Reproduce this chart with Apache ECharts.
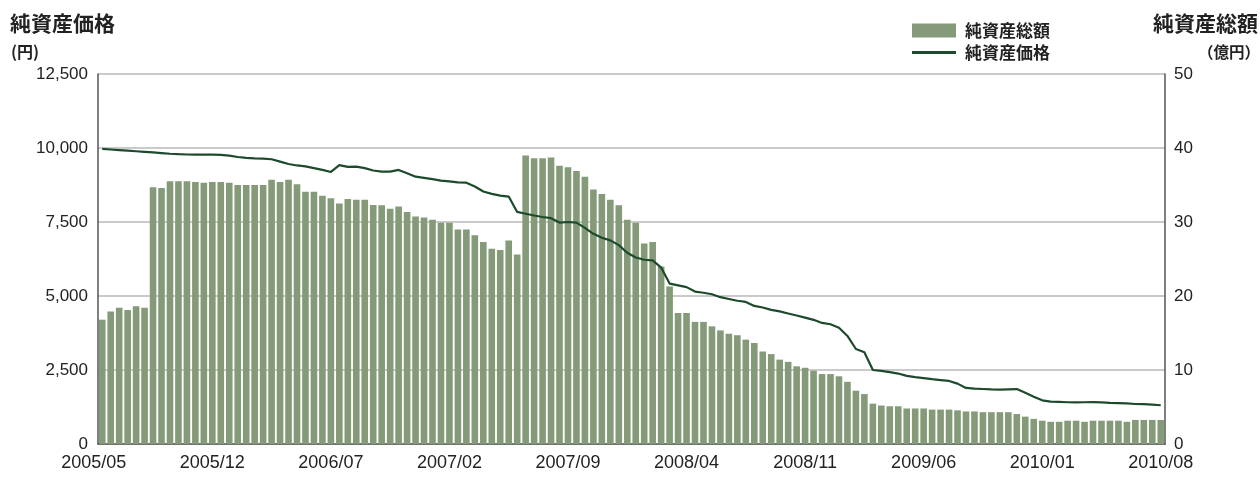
<!DOCTYPE html>
<html>
<head>
<meta charset="utf-8">
<script src="https://cdn.jsdelivr.net/npm/echarts@6/dist/echarts.min.js"></script>
<style>
  html, body { margin: 0; padding: 0; background: #fff; }
  #main { width: 1260px; height: 479px; }
</style>
</head>
<body>
<div id="main"></div>
<script>
const tickLabels = ['2005/05', '2005/12', '2006/07', '2007/02', '2007/09', '2008/04', '2008/11', '2009/06', '2010/01', '2010/08'];

// half-month points, 2005/05 (2nd half) .. 2010/08
const categories = [];
for (let i = 0; i < 126; i++) {
  const m = 4 + Math.floor((i + 1) / 2);
  const y = 2005 + Math.floor(m / 12);
  const mm = String((m % 12) + 1).padStart(2, '0');
  categories.push((i + 1) % 2 === 0 ? `${y}/${mm}` : `${y}/${mm}/15`);
}

// 純資産総額 (億円)
const totalAssets = [
  16.8, 17.9, 18.4, 18.1, 18.6, 18.4, 34.7, 34.6, 35.5, 35.5, 35.5, 35.4, 35.3,
  35.4, 35.4, 35.3, 35.0, 35.0, 35.0, 35.0, 35.7, 35.4, 35.7, 35.1, 34.1, 34.1,
  33.55, 33.2, 32.5, 33.1, 33.0, 33.0, 32.3, 32.25, 31.8, 32.1, 31.35, 30.75,
  30.6, 30.3, 29.9, 29.9, 29.0, 29.0, 28.2, 27.3, 26.4, 26.2, 27.5, 25.6,
  39.0, 38.6, 38.6, 38.7, 37.6, 37.4, 36.9, 36.1, 34.4, 33.8, 33.0, 32.25, 30.3,
  29.9, 27.1, 27.3, 24.0, 21.3, 17.7, 17.7, 16.5, 16.5, 15.9, 15.35, 14.9, 14.7,
  14.1, 13.65, 12.5, 12.15, 11.4, 11.1, 10.5, 10.3, 9.9, 9.45, 9.45, 9.15, 8.4,
  7.2, 6.75, 5.45, 5.2, 5.1, 5.1, 4.8, 4.8, 4.8, 4.65, 4.65, 4.65, 4.55,
  4.4, 4.4, 4.3, 4.3, 4.3, 4.3, 4.05, 3.7, 3.4, 3.15, 3.0, 3.0,
  3.15, 3.15, 3.0, 3.15, 3.15, 3.15, 3.15, 3.0, 3.25, 3.25, 3.25, 3.25
];

// 純資産価格 (円)
const navPrice = [
  9970, 9950, 9930, 9910, 9890, 9870, 9850, 9830, 9805, 9790, 9780, 9775, 9775,
  9775, 9770, 9740, 9695, 9665, 9650, 9640, 9620, 9540, 9460, 9410, 9380, 9320,
  9260, 9190, 9420, 9360, 9370, 9320, 9240, 9200, 9200, 9260, 9150, 9030,
  8990, 8950, 8900, 8870, 8837, 8830, 8700, 8530, 8450, 8390, 8360, 7840,
  7780, 7720, 7670, 7630, 7480, 7500, 7480, 7300, 7100, 6970, 6880, 6720, 6460,
  6300, 6225, 6205, 5960, 5420, 5360, 5300, 5150, 5110, 5060, 4960, 4900, 4840,
  4800, 4665, 4610, 4530, 4480, 4410, 4340, 4270, 4195, 4090, 4045, 3930, 3650,
  3210, 3100, 2500, 2470, 2430, 2380, 2300, 2260, 2225, 2190, 2160, 2130, 2040,
  1895, 1870, 1858, 1845, 1834, 1845, 1855, 1730, 1600, 1475, 1430, 1420,
  1410, 1405, 1410, 1418, 1405, 1390, 1383, 1370, 1352, 1345, 1330, 1310
];

const numFont = 'Liberation Sans, Arial, sans-serif';
const jpFont = 'Noto Sans CJK JP, sans-serif';
const ink = '#222';
const lineColor = '#1d4a2c';

const chart = echarts.init(document.getElementById('main'));

chart.setOption({
  animation: false,
  backgroundColor: '#fff',
  title: [
    { text: '純資産価格', left: 10, top: 13, padding: 0, textStyle: { fontFamily: jpFont, fontSize: 21, fontWeight: 'bold', color: ink } },
    { text: '(円)', left: 11, top: 44, padding: 0, textStyle: { fontFamily: jpFont, fontSize: 16, fontWeight: 'bold', color: ink } },
    { text: '純資産総額', right: 2, top: 13, padding: 0, textStyle: { fontFamily: jpFont, fontSize: 21, fontWeight: 'bold', color: ink } },
    { text: '（億円）', right: 0, top: 44, padding: 0, textStyle: { fontFamily: jpFont, fontSize: 15.5, fontWeight: 'bold', color: ink } }
  ],
  legend: {
    left: 912,
    top: 22,
    padding: 0,
    orient: 'vertical',
    itemWidth: 44,
    itemHeight: 14,
    itemGap: 5,
    textStyle: { fontFamily: jpFont, fontSize: 17, fontWeight: 'bold', color: ink, padding: [0, 0, 0, 4] },
    data: [
      { name: '純資産総額', icon: 'rect' },
      { name: '純資産価格', icon: 'path://M0,0 L44,0 L44,3 L0,3 Z' }
    ]
  },
  grid: { left: 98, right: 95, top: 74, bottom: 35 },
  xAxis: {
    type: 'category',
    data: categories,
    boundaryGap: true,
    axisLine: { lineStyle: { color: '#555', width: 1.5 } },
    axisTick: { alignWithLabel: true, length: 6, lineStyle: { color: '#888' } },
    axisLabel: {
      interval: (idx) => tickLabels.includes(categories[idx]),
      margin: 10,
      fontFamily: numFont,
      fontSize: 18,
      color: ink
    },
    splitLine: { show: false }
  },
  yAxis: [
    {
      type: 'value',
      min: 0,
      max: 12500,
      interval: 2500,
      axisLine: { show: true, lineStyle: { color: '#555', width: 1.5 } },
      axisTick: { show: false },
      axisLabel: {
        margin: 10,
        fontFamily: numFont,
        fontSize: 17,
        color: ink,
        formatter: (v) => v.toLocaleString('en-US')
      },
      splitLine: { lineStyle: { color: '#b8b8b8', width: 1.5 } }
    },
    {
      type: 'value',
      min: 0,
      max: 50,
      interval: 10,
      position: 'right',
      axisLine: { show: true, lineStyle: { color: '#555', width: 1.5 } },
      axisTick: { show: false },
      axisLabel: { margin: 9, fontFamily: numFont, fontSize: 17, color: ink },
      splitLine: { show: false }
    }
  ],
  series: [
    {
      name: '純資産総額',
      type: 'bar',
      yAxisIndex: 1,
      data: totalAssets,
      barWidth: '78%',
      itemStyle: { color: '#849a79' }
    },
    {
      name: '純資産価格',
      type: 'line',
      yAxisIndex: 0,
      data: navPrice,
      symbol: 'none',
      lineStyle: { color: lineColor, width: 2.2 },
      itemStyle: { color: lineColor }
    }
  ]
});

// first tick label sits half a step left of the plot area
const x0 = chart.convertToPixel({ xAxisIndex: 0 }, categories[0]);
const step = chart.convertToPixel({ xAxisIndex: 0 }, categories[1]) - x0;
chart.setOption({
  graphic: [{
    type: 'text',
    x: x0 - step,
    y: 454,
    style: { text: tickLabels[0], align: 'center', fontFamily: numFont, fontSize: 18, fill: ink }
  }]
});
</script>
</body>
</html>
